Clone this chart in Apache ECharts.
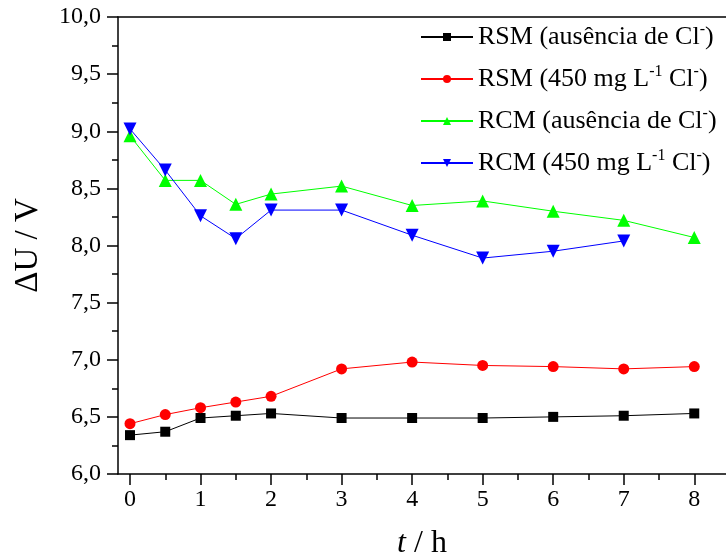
<!DOCTYPE html>
<html>
<head>
<meta charset="utf-8">
<script src="https://cdn.jsdelivr.net/npm/echarts@6/dist/echarts.min.js"></script>
<style>html,body{margin:0;padding:0;background:#fff}#c{width:726px;height:555px}</style>
</head>
<body>
<div id="c"></div>
<script>
var times = [0, 0.5, 1, 1.5, 2, 3, 4, 5, 6, 7, 8];
var timesBlue = [0, 0.5, 1, 1.5, 2, 3, 4, 5, 6, 7];
var rsmNoCl = [6.34, 6.37, 6.49, 6.51, 6.53, 6.49, 6.49, 6.49, 6.50, 6.51, 6.53];
var rsmCl = [6.44, 6.52, 6.58, 6.63, 6.68, 6.92, 6.98, 6.95, 6.94, 6.92, 6.94];
var rcmNoCl = [8.96, 8.57, 8.57, 8.36, 8.45, 8.52, 8.35, 8.39, 8.30, 8.22, 8.07];
var rcmCl = [9.02, 8.66, 8.26, 8.06, 8.31, 8.31, 8.09, 7.89, 7.95, 8.04];
var xMajorTicks = [0, 1, 2, 3, 4, 5, 6, 7, 8];
var xMinorTicks = [0.5, 1.5, 2.5, 3.5, 4.5, 5.5, 6.5, 7.5];
var seriesNames = ['RSM (ausência de Cl-)', 'RSM (450 mg L-1 Cl-)', 'RCM (ausência de Cl-)', 'RCM (450 mg L-1 Cl-)'];
var legendRich = {
  'RSM (ausência de Cl-)': '{t|RSM (ausência de Cl}{s|-}{t|)}',
  'RSM (450 mg L-1 Cl-)': '{t|RSM (450 mg L}{s|-1}{t| Cl}{s|-}{t|)}',
  'RCM (ausência de Cl-)': '{t|RCM (ausência de Cl}{s|-}{t|)}',
  'RCM (450 mg L-1 Cl-)': '{t|RCM (450 mg L}{s|-1}{t| Cl}{s|-}{t|)}'
};
function pairs(xs, ys) { return ys.map(function (v, i) { return [xs[i], v]; }); }

var FONT = 'Liberation Serif';
var X_MIN = -0.17, X_MAX = 8.45;
var chart = echarts.init(document.getElementById('c'), null, {renderer: 'canvas'});
var axisLineStyle = {color: '#000', width: 1.5};
chart.setOption({
  animation: false,
  backgroundColor: '#fff',
  grid: {left: 118, right: 0, top: 17, bottom: 81, containLabel: false, outerBoundsMode: 'none'},
  legend: {
    orient: 'vertical', left: 415, top: 17, itemWidth: 52, itemHeight: 10, itemGap: 14,
    data: seriesNames,
    formatter: function (n) { return legendRich[n]; },
    textStyle: {
      fontFamily: FONT, color: '#000',
      rich: {
        t: {fontFamily: FONT, fontSize: 26, lineHeight: 30, color: '#000'},
        s: {fontFamily: FONT, fontSize: 16, lineHeight: 16, verticalAlign: 'top', color: '#000'}
      }
    }
  },
  xAxis: [{
    type: 'value', min: X_MIN, max: X_MAX, position: 'bottom',
    name: '{i|t} / h', nameLocation: 'middle', nameGap: 54,
    nameTextStyle: {fontFamily: FONT, fontSize: 32, color: '#000',
      rich: {i: {fontFamily: FONT, fontSize: 32, fontStyle: 'italic', color: '#000'}}},
    axisLine: {onZero: false, lineStyle: axisLineStyle},
    axisTick: {show: true, inside: false, length: 11, lineStyle: axisLineStyle, customValues: xMajorTicks},
    axisLabel: {fontFamily: FONT, fontSize: 24, color: '#000', margin: 14, customValues: xMajorTicks},
    splitLine: {show: false}
  }, {
    type: 'value', min: X_MIN, max: X_MAX, position: 'bottom',
    axisLine: {show: false, onZero: false},
    axisTick: {show: true, inside: false, length: 6, lineStyle: axisLineStyle, customValues: xMinorTicks},
    axisLabel: {show: false},
    splitLine: {show: false}
  }, {
    type: 'value', min: X_MIN, max: X_MAX, position: 'top',
    axisLine: {show: true, onZero: false, lineStyle: axisLineStyle},
    axisTick: {show: false},
    axisLabel: {show: false},
    splitLine: {show: false}
  }],
  yAxis: {
    type: 'value', min: 6, max: 10, interval: 0.5,
    name: 'ΔU / V', nameLocation: 'middle', nameGap: 73,
    nameTextStyle: {fontFamily: FONT, fontSize: 33, color: '#000'},
    axisLine: {show: true, onZero: false, lineStyle: axisLineStyle},
    axisTick: {show: true, inside: false, length: 11, lineStyle: axisLineStyle},
    minorTick: {show: true, splitNumber: 2, length: 6, lineStyle: axisLineStyle},
    axisLabel: {fontFamily: FONT, fontSize: 24, color: '#000', margin: 17,
      formatter: function (v) { return v.toFixed(1).replace('.', ','); }},
    splitLine: {show: false}
  },
  series: [{
    name: seriesNames[0], type: 'line', data: pairs(times, rsmNoCl),
    symbol: 'rect', symbolSize: 10, lineStyle: {color: '#000', width: 1},
    itemStyle: {color: '#000'}
  }, {
    name: seriesNames[1], type: 'line', data: pairs(times, rsmCl),
    symbol: 'circle', symbolSize: 11, lineStyle: {color: '#ff0000', width: 1},
    itemStyle: {color: '#ff0000'}
  }, {
    name: seriesNames[2], type: 'line', data: pairs(times, rcmNoCl),
    symbol: 'triangle', symbolSize: 13, lineStyle: {color: '#00ff00', width: 1},
    itemStyle: {color: '#00ff00'}
  }, {
    name: seriesNames[3], type: 'line', data: pairs(timesBlue, rcmCl),
    symbol: 'triangle', symbolRotate: 180, symbolSize: 13, lineStyle: {color: '#0000ff', width: 1},
    itemStyle: {color: '#0000ff'}
  }]
});
</script>
</body>
</html>
